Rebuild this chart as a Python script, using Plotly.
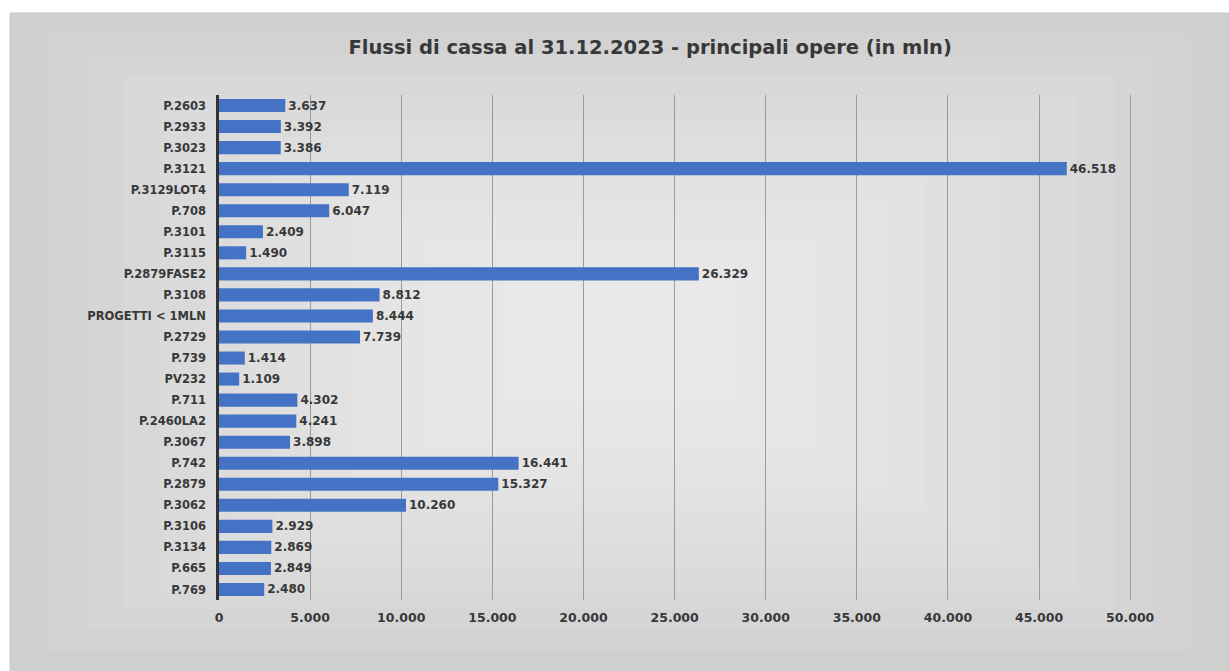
import plotly.graph_objects as go

categories = ["P.2603", "P.2933", "P.3023", "P.3121", "P.3129LOT4", "P.708", "P.3101", "P.3115",
              "P.2879FASE2", "P.3108", "PROGETTI < 1MLN", "P.2729", "P.739", "PV232", "P.711",
              "P.2460LA2", "P.3067", "P.742", "P.2879", "P.3062", "P.3106", "P.3134", "P.665", "P.769"]
values = [3637, 3392, 3386, 46518, 7119, 6047, 2409, 1490, 26329, 8812, 8444, 7739, 1414, 1109,
          4302, 4241, 3898, 16441, 15327, 10260, 2929, 2869, 2849, 2480]
tick_values = [0, 5000, 10000, 15000, 20000, 25000, 30000, 35000, 40000, 45000, 50000]

FONT = "DejaVu Sans"
TXT = "#383838"

fig = go.Figure(go.Bar(
    y=categories, x=values, orientation="h",
    marker=dict(color="#4472C4", line=dict(width=0)),
    width=0.62,
    text=values, texttemplate="%{x:,}", textposition="outside",
    constraintext="none",
    textfont=dict(family=FONT, size=12, color=TXT, weight="bold"),
    cliponaxis=False,
))

# plot area: x 219..1194 px, y 95..600 px
X0, X1 = (10 - 219) / 975, (1229 - 219) / 975
Y0, Y1 = (600 - 671) / 505, (600 - 13) / 505
shapes = [dict(type="rect", xref="paper", yref="paper", x0=X0, x1=X1, y0=Y0, y1=Y1,
               fillcolor="#cfcfcf", line=dict(color="#c8c8c8", width=1), layer="below")]
n = 14
cx, cy = (X0 + X1) / 2, (Y0 + Y1) / 2
hw, hh = (X1 - X0) / 2, (Y1 - Y0) / 2
for i in range(1, n + 1):
    f = 1 - i / (n + 2)
    shapes.append(dict(type="rect", xref="paper", yref="paper",
                       x0=cx - hw * f, x1=cx + hw * f, y0=cy - hh * f, y1=cy + hh * f,
                       fillcolor="rgba(255,255,255,0.07)", line=dict(width=0), layer="below"))

fig.update_layout(
    width=1229, height=671,
    margin=dict(l=219, r=35, t=95, b=71),
    paper_bgcolor="white", plot_bgcolor="rgba(0,0,0,0)",
    separators=",.",
    showlegend=False,
    shapes=shapes,
    title=dict(text="Flussi di cassa al 31.12.2023 - principali opere (in mln)",
               x=0.529, xanchor="center", y=0.93, yanchor="middle",
               font=dict(family=FONT, size=19.5, color=TXT, weight="bold")),
    xaxis=dict(range=[0, 53500], tickvals=tick_values, tickformat=",",
               showgrid=True, gridcolor="#9a9a9a", gridwidth=1, zeroline=False,
               showline=False, ticks="", ticklabelstandoff=8,
               tickfont=dict(family=FONT, size=12.5, color=TXT, weight="bold")),
    yaxis=dict(autorange="reversed", showgrid=False, showline=True, linecolor="#333333",
               linewidth=2.5, ticks="", ticklabelstandoff=8,
               tickfont=dict(family=FONT, size=11.5, color=TXT, weight="bold")),
)

fig.write_html("out.html")
